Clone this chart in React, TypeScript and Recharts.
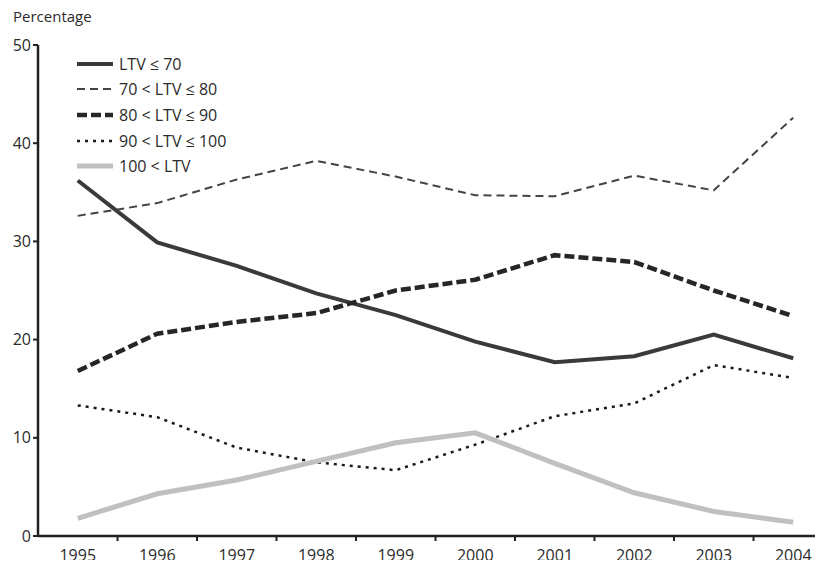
import { LineChart, Line, XAxis, YAxis } from 'recharts';

const YEARS = [1995, 1996, 1997, 1998, 1999, 2000, 2001, 2002, 2003, 2004];
const LTV_70 = [36.2, 29.9, 27.5, 24.7, 22.5, 19.8, 17.7, 18.3, 20.5, 18.1];
const LTV_80 = [32.6, 33.9, 36.3, 38.2, 36.6, 34.7, 34.6, 36.7, 35.2, 42.6];
const LTV_90 = [16.8, 20.6, 21.8, 22.7, 25.0, 26.1, 28.6, 27.9, 25.0, 22.4];
const LTV_100 = [13.3, 12.1, 9.0, 7.5, 6.7, 9.3, 12.2, 13.5, 17.4, 16.1];
const LTV_OVER = [1.8, 4.3, 5.7, 7.6, 9.5, 10.5, 7.4, 4.4, 2.5, 1.4];
const Y_TICKS = [0, 10, 20, 30, 40, 50];

const data = YEARS.map((year, i) => ({
  year,
  a: LTV_70[i],
  b: LTV_80[i],
  c: LTV_90[i],
  d: LTV_100[i],
  e: LTV_OVER[i],
}));

const SERIES = [
  { key: 'a', name: 'LTV ≤ 70', color: '#3a3a3a', width: 4, dash: undefined },
  { key: 'b', name: '70 < LTV ≤ 80', color: '#444', width: 2, dash: '8 5' },
  { key: 'c', name: '80 < LTV ≤ 90', color: '#262626', width: 4.5, dash: '10 4' },
  { key: 'd', name: '90 < LTV ≤ 100', color: '#1a1a1a', width: 2.5, dash: '3 5' },
  { key: 'e', name: '100 < LTV', color: '#c0c0c0', width: 5, dash: undefined },
];

const FONT = '"Open Sans", sans-serif';
const TEXT = '#2b2b2b';
const HALF_BAND = 39.75;

const YearTick = ({ x, y, payload }: any) => (
  <g>
    <text x={x} y={y + 25} textAnchor="middle" fill={TEXT} fontSize={16} fontFamily={FONT}>
      {payload.value}
    </text>
    <line x1={x + HALF_BAND} y1={y} x2={x + HALF_BAND} y2={y + 5} stroke="#222" strokeWidth={2} />
  </g>
);

// legend sits inside the plot, top left
const LegendBox = () => (
  <div style={{ position: 'absolute', left: 75, top: 51, fontFamily: FONT, fontSize: 16, color: TEXT }}>
    {SERIES.map((s) => (
      <div key={s.key} style={{ display: 'flex', alignItems: 'center', height: 25.6 }}>
        <svg width={40} height={10} style={{ marginRight: 4 }}>
          <line x1={2} y1={5} x2={38} y2={5} stroke={s.color} strokeWidth={s.width}
            strokeDasharray={s.dash} />
        </svg>
        <span>{s.name}</span>
      </div>
    ))}
  </div>
);

export default function App() {
  return (
    <div style={{ margin: -8, width: 823, height: 568, overflow: 'hidden', position: 'relative', background: '#fff' }}>
      <div style={{ position: 'absolute', left: 13, top: 6, fontFamily: FONT, fontSize: 15, color: TEXT }}>
        Percentage
      </div>
      <LineChart width={835} height={568} data={data} margin={{ top: 45, right: 2, bottom: 0, left: 0 }}>
        <XAxis dataKey="year" type="number" domain={[1994.5, 2004.5]} ticks={YEARS}
          allowDataOverflow tickLine={false} tickSize={0} tickMargin={0} height={32}
          axisLine={{ stroke: '#222', strokeWidth: 2.5 }} tick={<YearTick />} interval={0} />
        <YAxis domain={[0, 50]} ticks={Y_TICKS} width={38} tickSize={5} tickMargin={2}
          axisLine={{ stroke: '#222', strokeWidth: 2.5 }} tickLine={{ stroke: '#222', strokeWidth: 2 }}
          tick={{ fill: TEXT, fontSize: 16, fontFamily: FONT }} interval={0} />
        {SERIES.map((s) => (
          <Line key={s.key} dataKey={s.key} name={s.name} type="linear" stroke={s.color}
            strokeWidth={s.width} strokeDasharray={s.dash} dot={false} activeDot={false}
            isAnimationActive={false} />
        ))}
      </LineChart>
      <LegendBox />
    </div>
  );
}
